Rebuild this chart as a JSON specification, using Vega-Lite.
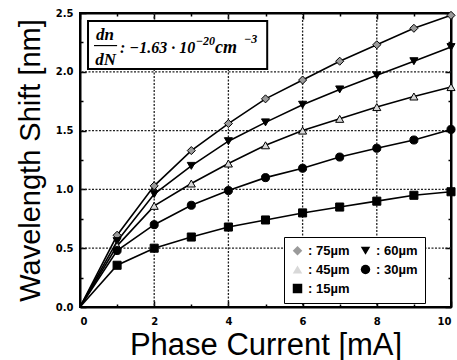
{
  "$schema": "https://vega.github.io/schema/vega-lite/v6.json",
  "width": 371,
  "height": 294,
  "autosize": {"type": "none"},
  "padding": {"left": 80, "top": 13, "right": 6, "bottom": 53},
  "background": "white",
  "config": {
    "view": {"stroke": "black", "strokeWidth": 2},
    "axis": {
      "domainColor": "black",
      "domainWidth": 2,
      "tickColor": "black",
      "tickWidth": 1.5,
      "labelFont": "DejaVu Sans",
      "labelFontWeight": "bold",
      "labelFontSize": 10,
      "labelColor": "black",
      "titleColor": "black",
      "titleFont": "Liberation Sans",
      "titleFontWeight": "normal"
    }
  },
  "datasets": {
    "shift": [
      {"series": "75µm", "current": 0, "shift": 0},
      {"series": "75µm", "current": 1, "shift": 0.61},
      {"series": "75µm", "current": 2, "shift": 1.03},
      {"series": "75µm", "current": 3, "shift": 1.33},
      {"series": "75µm", "current": 4, "shift": 1.56},
      {"series": "75µm", "current": 5, "shift": 1.77},
      {"series": "75µm", "current": 6, "shift": 1.93},
      {"series": "75µm", "current": 7, "shift": 2.09},
      {"series": "75µm", "current": 8, "shift": 2.23},
      {"series": "75µm", "current": 9, "shift": 2.37},
      {"series": "75µm", "current": 10, "shift": 2.48},
      {"series": "60µm", "current": 0, "shift": 0},
      {"series": "60µm", "current": 1, "shift": 0.56},
      {"series": "60µm", "current": 2, "shift": 0.96},
      {"series": "60µm", "current": 3, "shift": 1.2},
      {"series": "60µm", "current": 4, "shift": 1.41},
      {"series": "60µm", "current": 5, "shift": 1.57},
      {"series": "60µm", "current": 6, "shift": 1.72},
      {"series": "60µm", "current": 7, "shift": 1.85},
      {"series": "60µm", "current": 8, "shift": 1.97},
      {"series": "60µm", "current": 9, "shift": 2.09},
      {"series": "60µm", "current": 10, "shift": 2.21},
      {"series": "45µm", "current": 0, "shift": 0},
      {"series": "45µm", "current": 1, "shift": 0.52},
      {"series": "45µm", "current": 2, "shift": 0.86},
      {"series": "45µm", "current": 3, "shift": 1.05},
      {"series": "45µm", "current": 4, "shift": 1.22},
      {"series": "45µm", "current": 5, "shift": 1.375},
      {"series": "45µm", "current": 6, "shift": 1.5},
      {"series": "45µm", "current": 7, "shift": 1.6},
      {"series": "45µm", "current": 8, "shift": 1.7},
      {"series": "45µm", "current": 9, "shift": 1.79},
      {"series": "45µm", "current": 10, "shift": 1.87},
      {"series": "30µm", "current": 0, "shift": 0},
      {"series": "30µm", "current": 1, "shift": 0.48},
      {"series": "30µm", "current": 2, "shift": 0.7},
      {"series": "30µm", "current": 3, "shift": 0.865},
      {"series": "30µm", "current": 4, "shift": 0.99},
      {"series": "30µm", "current": 5, "shift": 1.1},
      {"series": "30µm", "current": 6, "shift": 1.18},
      {"series": "30µm", "current": 7, "shift": 1.275},
      {"series": "30µm", "current": 8, "shift": 1.35},
      {"series": "30µm", "current": 9, "shift": 1.42},
      {"series": "30µm", "current": 10, "shift": 1.51},
      {"series": "15µm", "current": 0, "shift": 0},
      {"series": "15µm", "current": 1, "shift": 0.355},
      {"series": "15µm", "current": 2, "shift": 0.5},
      {"series": "15µm", "current": 3, "shift": 0.595},
      {"series": "15µm", "current": 4, "shift": 0.68},
      {"series": "15µm", "current": 5, "shift": 0.74},
      {"series": "15µm", "current": 6, "shift": 0.8},
      {"series": "15µm", "current": 7, "shift": 0.85},
      {"series": "15µm", "current": 8, "shift": 0.9},
      {"series": "15µm", "current": 9, "shift": 0.95},
      {"series": "15µm", "current": 10, "shift": 0.98}
    ],
    "gridx": [{"gx": 2}, {"gx": 4}, {"gx": 6}, {"gx": 8}],
    "gridy": [{"gy": 0.5}, {"gy": 1.0}, {"gy": 1.5}, {"gy": 2.0}]
  },
  "data": {"name": "shift"},
  "resolve": {"axis": {"x": "independent", "y": "independent"}},
  "layer": [
    {
      "data": {"name": "gridx"},
      "mark": {"type": "rule", "color": "#222222", "strokeWidth": 1.3, "strokeDash": [2, 1.5]},
      "encoding": {
        "x": {"field": "gx", "type": "quantitative", "scale": {"domain": [0, 10], "nice": false, "zero": false}, "axis": null}
      }
    },
    {
      "data": {"name": "gridy"},
      "mark": {"type": "rule", "color": "#222222", "strokeWidth": 1.3, "strokeDash": [2, 1.5]},
      "encoding": {
        "y": {"field": "gy", "type": "quantitative", "scale": {"domain": [0, 2.5], "nice": false, "zero": false}, "axis": null}
      }
    },
    {
      "mark": {"type": "line", "color": "black", "strokeWidth": 1.6},
      "encoding": {
        "x": {
          "field": "current", "type": "quantitative",
          "axis": {
            "orient": "bottom",
            "values": [0, 1, 2, 3, 4, 5, 6, 7, 8, 9, 10],
            "labelExpr": "datum.value % 2 == 0 ? datum.label : ''",
            "tickSize": {"condition": {"test": "datum.value % 2 == 1", "value": -3}, "value": -6},
            "labelPadding": 15,
            "grid": false,
            "title": "Phase Current [mA]",
            "titleFontSize": 31,
            "titleX": 185.5,
            "titleY": 47,
            "titleAnchor": "middle",
            "titleAlign": "center",
            "titleBaseline": "alphabetic"
          }
        },
        "y": {
          "field": "shift", "type": "quantitative",
          "axis": {
            "orient": "left",
            "values": [0, 0.25, 0.5, 0.75, 1, 1.25, 1.5, 1.75, 2, 2.25, 2.5],
            "labelExpr": "round(datum.value * 4) % 2 == 0 ? format(datum.value, '.1f') : ''",
            "tickSize": {"condition": {"test": "round(datum.value * 4) % 2 == 1", "value": -3}, "value": -6},
            "labelPadding": 13,
            "grid": false,
            "title": "Wavelength Shift [nm]",
            "titleFontSize": 29,
            "titleAngle": -90,
            "titleX": -41,
            "titleY": 147,
            "titleAlign": "center",
            "titleBaseline": "alphabetic"
          }
        },
        "detail": {"field": "series", "type": "nominal"}
      }
    },
    {
      "mark": {"type": "point", "opacity": 0},
      "encoding": {
        "x": {
          "field": "current", "type": "quantitative",
          "axis": {
            "orient": "top",
            "values": [0, 1, 2, 3, 4, 5, 6, 7, 8, 9, 10],
            "labels": false,
            "title": null,
            "grid": false,
            "tickSize": {"condition": {"test": "datum.value % 2 == 1", "value": -3}, "value": -6}
          }
        },
        "y": {
          "field": "shift", "type": "quantitative",
          "axis": {
            "orient": "right",
            "values": [0, 0.25, 0.5, 0.75, 1, 1.25, 1.5, 1.75, 2, 2.25, 2.5],
            "labels": false,
            "title": null,
            "grid": false,
            "tickSize": {"condition": {"test": "round(datum.value * 4) % 2 == 1", "value": -3}, "value": -6}
          }
        }
      }
    },
    {
      "data": {"values": [{}]},
      "mark": {"type": "rect", "fill": "white", "stroke": "black", "strokeWidth": 2},
      "encoding": {
        "x": {"datum": 0.216, "type": "quantitative", "axis": null},
        "x2": {"datum": 5.046},
        "y": {"datum": 2.432, "type": "quantitative", "axis": null},
        "y2": {"datum": 2.024}
      }
    },
    {
      "data": {"values": [{}]},
      "mark": {"type": "rule", "color": "black", "strokeWidth": 1.2},
      "encoding": {
        "x": {"datum": 0.378, "type": "quantitative", "axis": null},
        "x2": {"datum": 1.0},
        "y": {"datum": 2.223, "type": "quantitative", "axis": null}
      }
    },
    {
      "data": {"values": [{}]},
      "mark": {"type": "text", "font": "Liberation Serif", "fontStyle": "italic", "fontWeight": "bold", "fontSize": 17, "align": "center", "baseline": "alphabetic", "color": "black"},
      "encoding": {
        "x": {"datum": 0.676, "type": "quantitative", "axis": null},
        "y": {"datum": 2.27, "type": "quantitative", "axis": null},
        "text": {"value": "dn"}
      }
    },
    {
      "data": {"values": [{}]},
      "mark": {"type": "text", "font": "Liberation Serif", "fontStyle": "italic", "fontWeight": "bold", "fontSize": 17, "align": "center", "baseline": "alphabetic", "color": "black"},
      "encoding": {
        "x": {"datum": 0.69, "type": "quantitative", "axis": null},
        "y": {"datum": 2.058, "type": "quantitative", "axis": null},
        "text": {"value": "dN"}
      }
    },
    {
      "data": {"values": [{}]},
      "mark": {"type": "text", "font": "Liberation Serif", "fontStyle": "italic", "fontWeight": "bold", "fontSize": 16, "align": "left", "baseline": "alphabetic", "color": "black"},
      "encoding": {
        "x": {"datum": 1.081, "type": "quantitative", "axis": null},
        "y": {"datum": 2.157, "type": "quantitative", "axis": null},
        "text": {"value": ": −1.63 · 10"}
      }
    },
    {
      "data": {"values": [{}]},
      "mark": {"type": "text", "font": "Liberation Serif", "fontStyle": "italic", "fontWeight": "bold", "fontSize": 12, "align": "left", "baseline": "alphabetic", "color": "black"},
      "encoding": {
        "x": {"datum": 3.12, "type": "quantitative", "axis": null},
        "y": {"datum": 2.228, "type": "quantitative", "axis": null},
        "text": {"value": "−20"}
      }
    },
    {
      "data": {"values": [{}]},
      "mark": {"type": "text", "font": "Liberation Serif", "fontStyle": "italic", "fontWeight": "bold", "fontSize": 18, "align": "left", "baseline": "alphabetic", "color": "black"},
      "encoding": {
        "x": {"datum": 3.64, "type": "quantitative", "axis": null},
        "y": {"datum": 2.157, "type": "quantitative", "axis": null},
        "text": {"value": "cm"}
      }
    },
    {
      "data": {"values": [{}]},
      "mark": {"type": "text", "font": "Liberation Serif", "fontStyle": "italic", "fontWeight": "bold", "fontSize": 12, "align": "left", "baseline": "alphabetic", "color": "black"},
      "encoding": {
        "x": {"datum": 4.42, "type": "quantitative", "axis": null},
        "y": {"datum": 2.242, "type": "quantitative", "axis": null},
        "text": {"value": "−3"}
      }
    },
    {
      "transform": [{"filter": "datum.current > 0"}],
      "mark": {"type": "point", "filled": true, "stroke": "black", "strokeWidth": 1, "size": 65, "opacity": 1},
      "encoding": {
        "x": {"field": "current", "type": "quantitative", "axis": null},
        "y": {"field": "shift", "type": "quantitative", "axis": null},
        "shape": {
          "field": "series", "type": "nominal",
          "scale": {"domain": ["75µm", "60µm", "45µm", "30µm", "15µm"], "range": ["diamond", "triangle-down", "triangle-up", "circle", "square"]},
          "legend": {
            "orient": "none", "legendX": 204, "legendY": 224, "columns": 2, "direction": "horizontal", "title": null,
            "labelExpr": "': ' + datum.label",
            "labelFont": "Liberation Sans", "labelFontWeight": "bold", "labelFontSize": 13, "labelColor": "black",
            "symbolSize": 90, "symbolStrokeColor": "black", "symbolStrokeWidth": 1,
            "strokeColor": "black", "fillColor": "white", "padding": 7, "rowPadding": 4, "columnPadding": 8, "labelOffset": 4,
            "encode": {"legend": {"update": {"strokeWidth": {"value": 2}}}}
          }
        },
        "fill": {
          "field": "series", "type": "nominal",
          "scale": {"domain": ["75µm", "60µm", "45µm", "30µm", "15µm"], "range": ["#9a9a9a", "black", "#d8d8d8", "black", "black"]},
          "legend": {
            "orient": "none", "legendX": 204, "legendY": 224, "columns": 2, "direction": "horizontal", "title": null,
            "labelExpr": "': ' + datum.label",
            "labelFont": "Liberation Sans", "labelFontWeight": "bold", "labelFontSize": 13, "labelColor": "black",
            "symbolSize": 90, "symbolStrokeColor": "black", "symbolStrokeWidth": 1,
            "strokeColor": "black", "fillColor": "white", "padding": 7, "rowPadding": 4, "columnPadding": 8, "labelOffset": 4,
            "encode": {"legend": {"update": {"strokeWidth": {"value": 2}}}}
          }
        }
      }
    }
  ]
}
